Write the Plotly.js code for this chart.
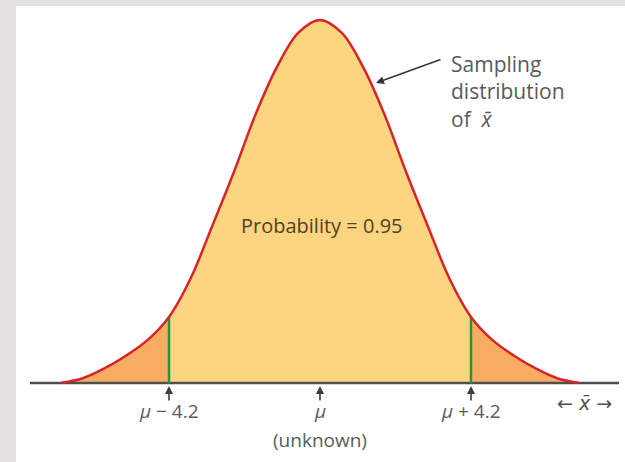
<!DOCTYPE html>
<html>
<head>
<meta charset="utf-8">
<script src="https://cdn.plot.ly/plotly-3.0.1.min.js"></script>
<style>
  html, body { margin: 0; padding: 0; background: #e4e2df; }
  #chart { width: 625px; height: 462px; }
</style>
</head>
<body>
<div id="chart"></div>
<script>
// Sampling distribution of x-bar, measured in units of the margin (mu = 0).
// Heights are relative to the peak of the curve.
const curveX = [-7.2, -6.6, -6.0, -5.4, -4.8, -4.2, -3.6, -3.0, -2.4, -1.8, -1.2, -0.6, 0,
                0.6, 1.2, 1.8, 2.4, 3.0, 3.6, 4.2, 4.8, 5.4, 6.0, 6.6, 7.2];
const curveY = [0, 0.013, 0.040, 0.075, 0.118, 0.182, 0.288, 0.432, 0.580, 0.738, 0.870, 0.965, 1.000,
                0.965, 0.870, 0.738, 0.580, 0.432, 0.288, 0.182, 0.118, 0.075, 0.040, 0.013, 0];

// Interval endpoints mu - 4.2 and mu + 4.2, and the centre mu.
const margin = 4.2;
const markX = [-margin, 0, margin];
const markLabels = ['<i>μ</i> − 4.2', '<i>μ</i>', '<i>μ</i> + 4.2'];
const probabilityText = 'Probability = 0.95';
const curveCaption = 'Sampling<br>distribution<br>of  <i>x̄</i>';
const axisCaption = '← <i>x̄</i> →';

// --- geometry of the drawing ---
const PX_PER_X = 35.95;      // horizontal pixels per unit
const PX_PER_Y = 363;        // vertical pixels per unit of relative height
const X0_PX = 320, Y0_PX = 383, W = 625, H = 462;
const xRange = [(0 - X0_PX) / PX_PER_X, (W - X0_PX) / PX_PER_X];
const yRange = [(Y0_PX - H) / PX_PER_Y, Y0_PX / PX_PER_Y];
const yAt = px => (Y0_PX - px) / PX_PER_Y;
const axisStart = (30 - X0_PX) / PX_PER_X, axisEnd = (619 - X0_PX) / PX_PER_X;

const iLo = curveX.indexOf(-margin), iHi = curveX.indexOf(margin);
const heightAt = x => curveY[curveX.indexOf(x)];

const TAIL = 'rgb(247,172,98)', CENTRE = 'rgb(253,213,128)';
const RED = 'rgb(214,36,40)', GREEN = 'rgb(36,150,62)', INK = 'rgb(80,80,80)';

function area(xs, ys, color) {
  return {x: xs, y: ys, mode: 'lines', fill: 'tozeroy', fillcolor: color,
          line: {width: 0, shape: 'spline'}, hoverinfo: 'skip'};
}

const traces = [
  area(curveX.slice(0, iLo + 1), curveY.slice(0, iLo + 1), TAIL),
  area(curveX.slice(iLo, iHi + 1), curveY.slice(iLo, iHi + 1), CENTRE),
  area(curveX.slice(iHi), curveY.slice(iHi), TAIL),
  // axis line
  {x: [axisStart, axisEnd], y: [0, 0], mode: 'lines',
   line: {color: INK, width: 2.5}, hoverinfo: 'skip'},
  // boundaries of the 95% region
  {x: [-margin, -margin, null, margin, margin],
   y: [0, heightAt(-margin), null, 0, heightAt(margin)], mode: 'lines',
   line: {color: GREEN, width: 2.5}, hoverinfo: 'skip'},
  // density curve
  {x: curveX, y: curveY, mode: 'lines',
   line: {color: RED, width: 2.5, shape: 'spline'}, hoverinfo: 'skip'}
];

const labelFont = {family: 'Open Sans, sans-serif', size: 19, color: 'rgb(90,90,90)'};

const annotations = [];
// small upward arrows under the axis
markX.forEach(x => annotations.push({
  x: x, y: yAt(386), xref: 'x', yref: 'y', text: '', showarrow: true,
  ax: 0, ay: 16, arrowhead: 2, arrowsize: 1, arrowwidth: 1.6, arrowcolor: 'rgb(60,60,60)'
}));
markX.forEach((x, i) => annotations.push({
  x: x, y: yAt(411), xref: 'x', yref: 'y', text: markLabels[i], showarrow: false,
  font: labelFont, xanchor: 'center', yanchor: 'middle'
}));
annotations.push({
  x: 0, y: yAt(440), xref: 'x', yref: 'y', text: '(unknown)', showarrow: false,
  font: labelFont, xanchor: 'center', yanchor: 'middle'
});
annotations.push({
  x: (584 - X0_PX) / PX_PER_X, y: yAt(403), xref: 'x', yref: 'y', text: axisCaption,
  showarrow: false, font: {family: 'DejaVu Sans, sans-serif', size: 19, color: 'rgb(80,80,80)'},
  xanchor: 'center', yanchor: 'middle'
});
annotations.push({
  x: 0.05, y: yAt(225), xref: 'x', yref: 'y', text: probabilityText, showarrow: false,
  font: {family: 'Open Sans, sans-serif', size: 20, color: 'rgb(78,66,36)'},
  xanchor: 'center', yanchor: 'middle'
});
annotations.push({
  x: (449 - X0_PX) / PX_PER_X, y: yAt(48), xref: 'x', yref: 'y', text: curveCaption,
  showarrow: false, font: {family: 'Open Sans, sans-serif', size: 21, color: 'rgb(90,90,90)'},
  xanchor: 'left', yanchor: 'top', align: 'left'
});
// pointer from the caption to the curve
annotations.push({
  x: (376 - X0_PX) / PX_PER_X, y: yAt(83), xref: 'x', yref: 'y', text: '',
  showarrow: true, ax: 66, ay: -24, arrowhead: 2, arrowsize: 1, arrowwidth: 1.6,
  arrowcolor: 'rgb(50,55,60)'
});

const layout = {
  width: W, height: H,
  margin: {l: 0, r: 0, t: 0, b: 0},
  paper_bgcolor: '#e4e2df', plot_bgcolor: '#e4e2df',
  showlegend: false,
  xaxis: {range: xRange, visible: false, fixedrange: true},
  yaxis: {range: yRange, visible: false, fixedrange: true},
  shapes: [{type: 'rect', xref: 'paper', yref: 'paper', layer: 'below',
            x0: 16 / W, x1: 1, y0: 0, y1: (H - 6) / H,
            fillcolor: '#ffffff', line: {width: 0}}],
  annotations: annotations
};

Plotly.newPlot('chart', traces, layout, {staticPlot: true, displayModeBar: false});
</script>
</body>
</html>
